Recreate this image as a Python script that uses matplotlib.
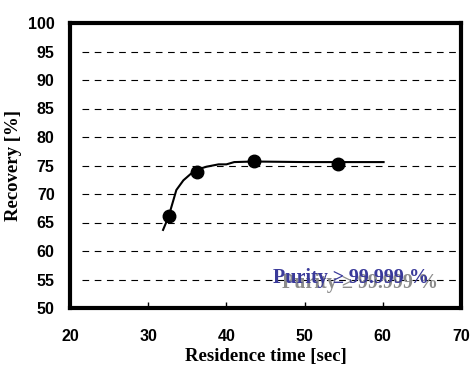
import matplotlib
matplotlib.use("Agg")
import matplotlib.pyplot as plt

# measured points
pts_x = [32.6, 36.3, 43.5, 54.3]
pts_y = [66.2, 73.8, 75.8, 75.3]

# fitted curve
fit_x = [31.9, 32.6, 33.6, 34.5, 35.5, 36.5, 37.5, 39.0, 40.0, 41.0, 43.5, 50.0, 60.1]
fit_y = [63.7, 66.0, 70.7, 72.4, 73.6, 74.4, 74.8, 75.2, 75.2, 75.6, 75.7, 75.6, 75.6]

xticks = [20, 30, 40, 50, 60, 70]
yticks = [50, 55, 60, 65, 70, 75, 80, 85, 90, 95, 100]

fig = plt.figure(figsize=(4.7, 3.65), dpi=100)
ax = fig.add_axes([70/470, 1-308/365, 391/470, 285/365])

for y in yticks[1:-1]:
    ax.axhline(y, xmin=0.03, color='black', lw=0.8, ls=(0, (6, 5)), zorder=1)

ax.plot(fit_x, fit_y, color='black', lw=1.5, zorder=2)
ax.plot(pts_x, pts_y, 'o', color='black', ms=9, zorder=3)

ax.set_xlim(20, 70)
ax.set_ylim(50, 100)
ax.set_xticks(xticks)
ax.set_yticks(yticks)
ax.tick_params(axis='x', direction='in', length=4, width=1, pad=15)
ax.tick_params(axis='y', length=0, pad=11)
for lab in ax.get_xticklabels() + ax.get_yticklabels():
    lab.set_family('Liberation Sans')
    lab.set_fontweight('bold')
    lab.set_fontsize(11.5)
for s in ax.spines.values():
    s.set_linewidth(3)

ax.set_xlabel('Residence time [sec]', family='Liberation Serif', fontweight='bold', fontsize=13.5, labelpad=3)
ax.set_ylabel('Recovery [%]', family='Liberation Serif', fontweight='bold', fontsize=13.5, labelpad=4)

ax.text(47.1, 53.5, 'Purity \u2265 99.999 %', family=['Liberation Serif', 'DejaVu Serif'],
        fontweight='bold', fontsize=14.5, color='#8c8c8c', va='baseline', zorder=4)
ax.text(46.0, 54.4, 'Purity \u2265 99.999 %', family=['Liberation Serif', 'DejaVu Serif'],
        fontweight='bold', fontsize=14.5, color='#3a3a9a', va='baseline', zorder=5)

fig.savefig('out.png', dpi=100)
